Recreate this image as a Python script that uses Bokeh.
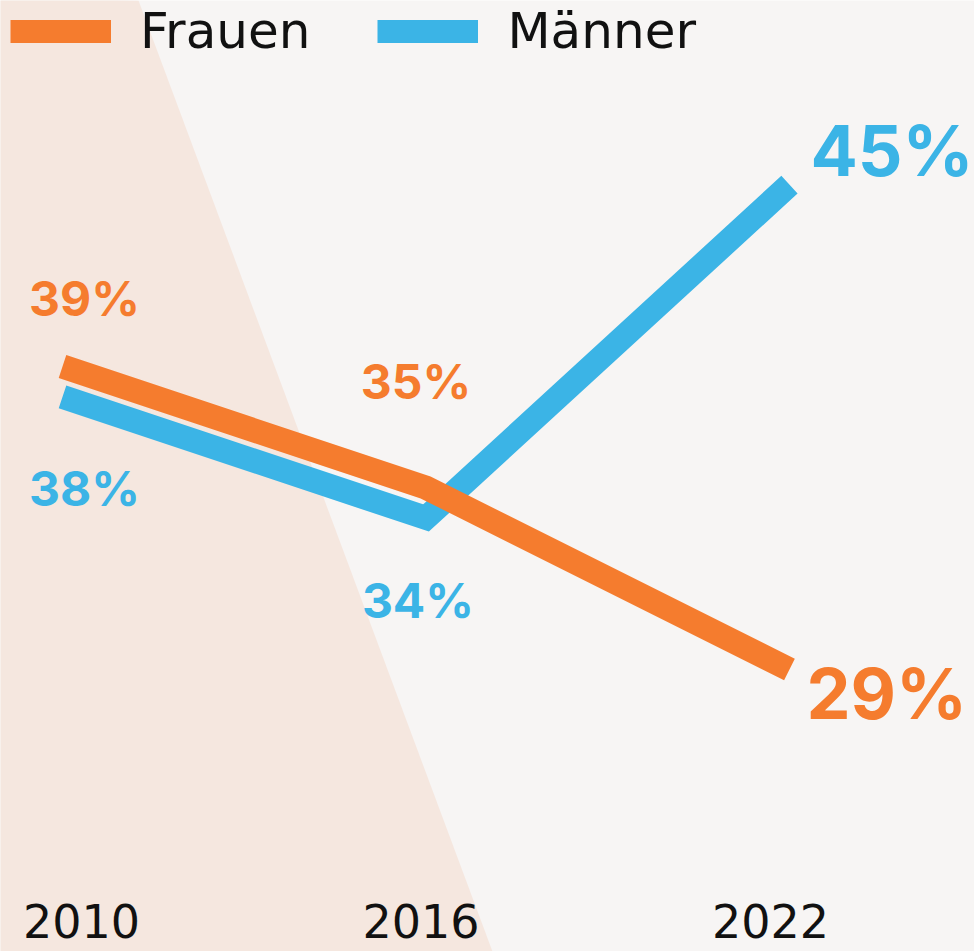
from bokeh.plotting import figure
from bokeh.models import Range1d, Legend, LegendItem
from bokeh.core.properties import value
from bokeh.embed import file_html
from bokeh.resources import INLINE

# ---- data ----
years = [2010, 2016, 2022]
year_labels = ["2010", "2016", "2022"]
frauen = [39, 35, 29]
maenner = [38, 34, 45]
series_names = ["Frauen", "Männer"]

# ---- styles ----
ORANGE = "#f57c2e"
BLUE = "#3bb4e6"
BG = "#f7f5f4"
WEDGE = "#f5e7df"
W, H = 974, 951
PX_YEAR = 60.58
PX_PCT = 30.3
LINE_W = 24
BASE_FIX = 0.4  # font-size fraction to lift alphabetic baseline

x0 = 2010 - 62 / PX_YEAR
x1 = x0 + W / PX_YEAR
y1 = 39 + 366 / PX_PCT
y0 = y1 - H / PX_PCT

p = figure(width=W, height=H, x_range=Range1d(x0, x1), y_range=Range1d(y0, y1),
           output_backend="svg", toolbar_location=None, min_border=0,
           x_axis_location=None, y_axis_location=None)
p.grid.visible = False
p.outline_line_color = None
p.background_fill_color = BG
p.border_fill_color = BG

# decorative wedge in the background
ex = 3 / PX_YEAR
ey = 3 / PX_PCT
p.patch([x0 - ex, x0 + 138 / PX_YEAR, x0 + 492 / PX_YEAR, x0 - ex],
        [y1 + ey, y1, y0, y0 - ey],
        color=WEDGE, line_color=None)

rb = p.line(years, maenner, line_width=LINE_W, color=BLUE, line_join="miter", line_cap="butt")
ro = p.line(years, frauen, line_width=LINE_W, color=ORANGE, line_join="miter", line_cap="butt")

NUM_FONT = value("Inter")
# label placement (dx, dy, align, size px) per point
f_place = [(22, -49, "center", 48), (-10, -87, "center", 48), (17, 52, "left", 70)]
m_place = [(22, 111, "center", 48), (-8, 102, "center", 48), (21, -6, "left", 70)]

for vals, place, col in [(frauen, f_place, ORANGE), (maenner, m_place, BLUE)]:
    for yr, v, (dx, dy, al, fs) in zip(years, vals, place):
        p.text(x=[yr], y=[v], text=[f"{v}%"], x_offset=dx, y_offset=dy - BASE_FIX * fs,
               text_align=al, text_baseline="alphabetic", text_color=col,
               text_font=NUM_FONT, text_font_style="bold", text_font_size=f"{fs}px")

year_dx = [19, -5, -19]
YFS = 46
for yr, lab, dx in zip(years, year_labels, year_dx):
    p.text(x=[yr], y=[y0], text=[lab], x_offset=dx, y_offset=-12 - BASE_FIX * YFS,
           text_align="center", text_baseline="alphabetic", text_color="#111111",
           text_font=value("DejaVu Sans"), text_font_size=f"{YFS}px")

legend = Legend(items=[LegendItem(label=series_names[0], renderers=[ro]),
                       LegendItem(label=series_names[1], renderers=[rb])],
                orientation="horizontal", location=(10, 891),
                margin=0, padding=0, spacing=67, label_standoff=29,
                glyph_width=101, glyph_height=23,
                label_text_font="DejaVu Sans", label_text_font_size="50px",
                label_text_color="#111111",
                background_fill_alpha=0, border_line_alpha=0)
p.add_layout(legend)

open("out.html", "w").write(file_html(p, INLINE))
